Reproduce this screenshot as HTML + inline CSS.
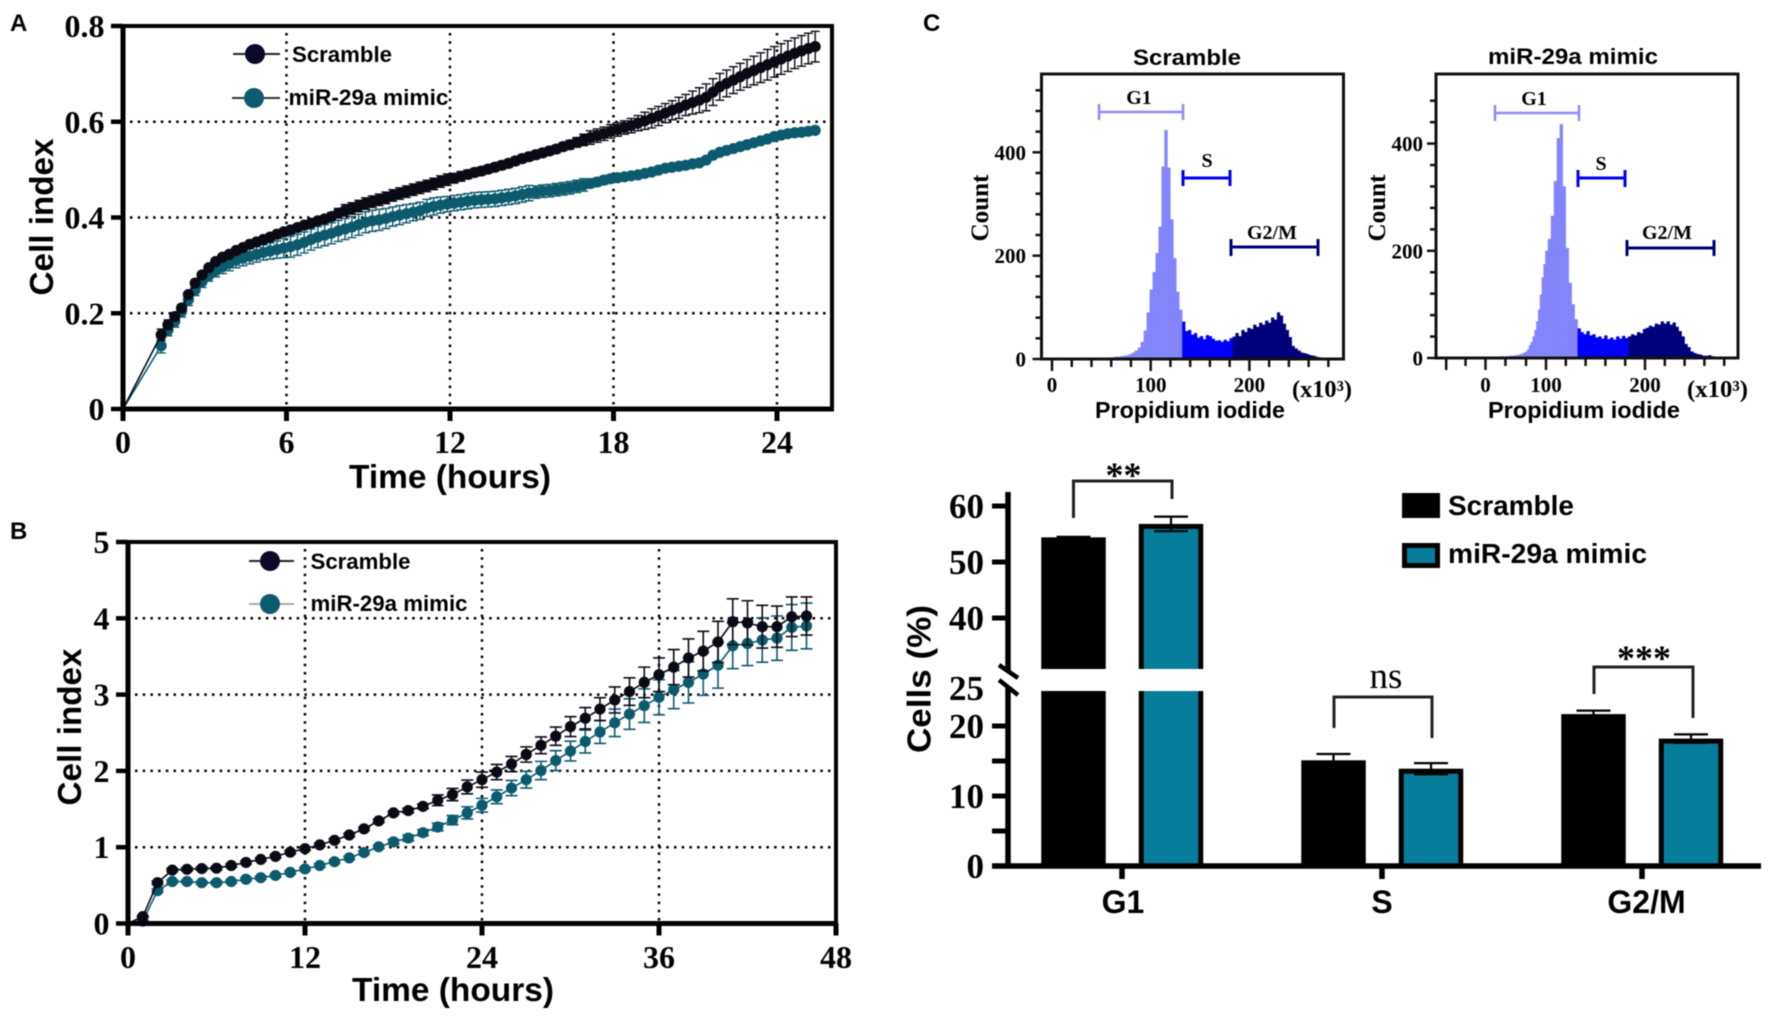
<!DOCTYPE html>
<html lang="en">
<head>
<meta charset="utf-8">
<title>miR-29a mimic cell index and cell cycle figure</title>
<style>
html,body{margin:0;padding:0;background:#fff;width:1772px;height:1017px;overflow:hidden}
svg{display:block;filter:blur(0.45px)}
.sans{font-family:"Liberation Sans",sans-serif;font-weight:bold;fill:#000}
.serif{font-family:"Liberation Serif",serif;font-weight:bold;fill:#000}
</style>
</head>
<body>
<svg id="figure" xmlns="http://www.w3.org/2000/svg" width="1772" height="1017" viewBox="0 0 1772 1017">
  <rect x="0" y="0" width="1772" height="1017" fill="#fff"/>
  <text class="sans" x="10" y="31" font-size="24">A</text>
  <text class="sans" x="10" y="539" font-size="24">B</text>
  <text class="sans" x="923" y="31" font-size="24">C</text>

  <g id="panelA"></g>
  <g id="panelB"></g>
  <g id="hist1"></g>
  <g id="hist2"></g>
  <g id="bars"></g>

  <!-- Panel A text and legend -->
  <text class="sans" x="450" y="488" font-size="33" text-anchor="middle" textLength="202" lengthAdjust="spacingAndGlyphs">Time (hours)</text>
  <text class="sans" font-size="33" text-anchor="middle" transform="translate(53,217) rotate(-90)" textLength="157" lengthAdjust="spacingAndGlyphs">Cell index</text>
  <g>
    <line x1="233" x2="280" y1="54" y2="54" stroke="#222" stroke-width="2"/>
    <circle cx="255" cy="54" r="10" fill="#0a0a28"/>
    <text class="sans" x="292" y="62" font-size="22" textLength="100" lengthAdjust="spacingAndGlyphs">Scramble</text>
    <line x1="232" x2="280" y1="98" y2="98" stroke="#333" stroke-width="2"/>
    <circle cx="254" cy="98" r="10" fill="#0c5a6e"/>
    <text class="sans" x="288.5" y="105" font-size="22" textLength="160" lengthAdjust="spacingAndGlyphs">miR-29a mimic</text>
  </g>

  <!-- Panel B text and legend -->
  <text class="sans" x="453" y="1001" font-size="33" text-anchor="middle" textLength="202" lengthAdjust="spacingAndGlyphs">Time (hours)</text>
  <text class="sans" font-size="33" text-anchor="middle" transform="translate(81,727) rotate(-90)" textLength="157" lengthAdjust="spacingAndGlyphs">Cell index</text>
  <g>
    <line x1="249" x2="294" y1="561" y2="561" stroke="#222" stroke-width="2"/>
    <circle cx="270" cy="561" r="10" fill="#0a0a28"/>
    <text class="sans" x="310.5" y="569" font-size="22" textLength="100" lengthAdjust="spacingAndGlyphs">Scramble</text>
    <line x1="249" x2="294" y1="604" y2="604" stroke="#aaa" stroke-width="2"/>
    <circle cx="270" cy="604" r="10" fill="#0c5a6e"/>
    <text class="sans" x="310.5" y="611" font-size="22" textLength="157" lengthAdjust="spacingAndGlyphs">miR-29a mimic</text>
  </g>

  <!-- Histogram text -->
  <text class="sans" x="1187" y="65" font-size="22" text-anchor="middle" textLength="108" lengthAdjust="spacingAndGlyphs">Scramble</text>
  <text class="sans" x="1573" y="64" font-size="22" text-anchor="middle" textLength="170" lengthAdjust="spacingAndGlyphs">miR-29a mimic</text>
  <text class="sans" x="1190" y="418" font-size="23" text-anchor="middle" textLength="190" lengthAdjust="spacingAndGlyphs">Propidium iodide</text>
  <text class="sans" x="1584" y="418" font-size="23" text-anchor="middle" textLength="192" lengthAdjust="spacingAndGlyphs">Propidium iodide</text>
  <text class="serif" font-size="25" text-anchor="middle" transform="translate(988,208) rotate(-90)" textLength="67" lengthAdjust="spacingAndGlyphs">Count</text>
  <text class="serif" font-size="25" text-anchor="middle" transform="translate(1385,208) rotate(-90)" textLength="67" lengthAdjust="spacingAndGlyphs">Count</text>
  <text class="serif" x="1292" y="397" font-size="24" textLength="60" lengthAdjust="spacingAndGlyphs">(x10³)</text>
  <text class="serif" x="1687" y="397" font-size="24" textLength="61" lengthAdjust="spacingAndGlyphs">(x10³)</text>

  <!-- Gates -->
  <g fill="none">
    <path d="M1099 112H1183M1099 104V120M1183 104V120" stroke="#8a8aff" stroke-width="2.5"/>
    <path d="M1183 178H1230M1183 170V186M1230 170V186" stroke="#0000f0" stroke-width="3"/>
    <path d="M1231 247H1318M1231 239V256M1318 239V256" stroke="#00007a" stroke-width="3"/>
  </g>
  <text class="serif" x="1139" y="104" font-size="20" text-anchor="middle">G1</text>
  <text class="serif" x="1207" y="167" font-size="20" text-anchor="middle">S</text>
  <text class="serif" x="1272" y="239" font-size="20" text-anchor="middle">G2/M</text>
  <g fill="none">
    <path d="M1495 113H1579M1495 105V121M1579 105V121" stroke="#8a8aff" stroke-width="2.5"/>
    <path d="M1578 178H1625M1578 170V187M1625 170V187" stroke="#0000f0" stroke-width="3"/>
    <path d="M1627 248H1714M1627 240V256M1714 240V256" stroke="#00007a" stroke-width="3"/>
  </g>
  <text class="serif" x="1534" y="105" font-size="20" text-anchor="middle">G1</text>
  <text class="serif" x="1601" y="170" font-size="20" text-anchor="middle">S</text>
  <text class="serif" x="1667" y="239" font-size="20" text-anchor="middle">G2/M</text>

  <!-- Bar chart annotations -->
  <text class="sans" font-size="33" text-anchor="middle" transform="translate(930.5,679) rotate(-90)" textLength="148" lengthAdjust="spacingAndGlyphs">Cells (%)</text>
  <g>
    <rect x="1402" y="493" width="38" height="25" fill="#000"/>
    <text class="sans" x="1448" y="515" font-size="28" textLength="126" lengthAdjust="spacingAndGlyphs">Scramble</text>
    <rect x="1404.5" y="545.5" width="33" height="20" fill="#067d9a" stroke="#000" stroke-width="5"/>
    <text class="sans" x="1448" y="563" font-size="28" textLength="199" lengthAdjust="spacingAndGlyphs">miR-29a mimic</text>
  </g>
  <g fill="none" stroke="#222" stroke-width="3">
    <path d="M1073.5 518V481H1172V499"/>
    <path d="M1334 728V697H1432V738"/>
    <path d="M1594 694V667H1693V718"/>
  </g>
  <text class="serif" x="1123.5" y="487" font-size="36" text-anchor="middle">**</text>
  <text font-family="'Liberation Serif',serif" x="1386" y="688" font-size="37" text-anchor="middle" fill="#000">ns</text>
  <text class="serif" x="1644" y="670" font-size="36" text-anchor="middle">***</text>
</svg>

<script>
/* ---------- Panel A data ---------- */
const aTimes = [0,1.4,1.65,1.9,2.15,2.4,2.65,2.9,3.15,3.4,3.65,3.9,4.15,4.4,4.65,4.9,5.15,5.4,5.65,5.9,6.15,6.4,6.65,6.9,7.15,7.4,7.65,7.9,8.15,8.4,8.65,8.9,9.15,9.4,9.65,9.9,10.15,10.4,10.65,10.9,11.15,11.4,11.65,11.9,12.15,12.4,12.65,12.9,13.15,13.4,13.65,13.9,14.15,14.4,14.65,14.9,15.15,15.4,15.65,15.9,16.15,16.4,16.65,16.9,17.15,17.4,17.65,17.9,18.15,18.4,18.65,18.9,19.15,19.4,19.65,19.9,20.15,20.4,20.65,20.9,21.15,21.4,21.65,21.9,22.15,22.4,22.65,22.9,23.15,23.4,23.65,23.9,24.15,24.4,24.65,24.9,25.15,25.4];
const aScramble = [0,.155,.176,.193,.211,.239,.263,.280,.295,.308,.317,.323,.331,.337,.344,.349,.354,.359,.365,.370,.374,.379,.384,.388,.393,.397,.402,.409,.415,.419,.424,.429,.433,.437,.441,.446,.450,.454,.458,.462,.466,.470,.475,.479,.482,.486,.490,.494,.497,.501,.505,.509,.513,.518,.523,.527,.531,.535,.539,.543,.548,.552,.557,.562,.567,.571,.575,.580,.584,.588,.592,.597,.602,.607,.612,.618,.624,.629,.635,.640,.645,.651,.662,.673,.680,.687,.694,.701,.707,.713,.719,.725,.731,.737,.743,.748,.753,.757];
const aMimic = [0,.132,.165,.183,.204,.228,.249,.266,.279,.289,.297,.304,.311,.315,.319,.323,.327,.330,.333,.336,.339,.343,.348,.354,.359,.363,.367,.372,.376,.380,.385,.390,.393,.395,.398,.402,.405,.408,.411,.414,.420,.423,.426,.428,.430,.432,.434,.436,.437,.438,.439,.441,.443,.445,.448,.451,.453,.455,.456,.458,.460,.462,.465,.468,.471,.474,.478,.481,.483,.485,.487,.489,.492,.495,.499,.503,.505,.507,.509,.512,.514,.520,.530,.536,.540,.544,.548,.552,.556,.560,.564,.569,.572,.575,.577,.578,.580,.582];
const aScrambleErr = [0,.012,.010,.008,.007,.006,.006,.006,.006,.006,.006,.006,.006,.006,.006,.006,.006,.006,.006,.006,.006,.006,.006,.006,.006,.007,.008,.010,.012,.012,.012,.012,.012,.012,.012,.012,.012,.012,.012,.012,.012,.012,.012,.012,.010,.010,.009,.008,.008,.008,.008,.008,.008,.008,.008,.008,.008,.008,.008,.008,.008,.009,.010,.012,.014,.014,.014,.014,.014,.014,.015,.016,.018,.020,.020,.020,.020,.022,.022,.024,.026,.028,.028,.028,.028,.028,.028,.029,.030,.031,.032,.032,.032,.032,.032,.032,.032,.032];
const aMimicErr = [0,.015,.012,.012,.012,.012,.012,.012,.012,.013,.014,.015,.016,.016,.016,.016,.016,.017,.018,.020,.022,.022,.022,.022,.022,.022,.022,.022,.022,.022,.022,.022,.022,.022,.021,.020,.020,.019,.018,.018,.018,.018,.017,.016,.016,.016,.016,.016,.016,.016,.016,.016,.016,.016,.016,.016,.013,.013,.013,.013,.013,.013,.013,.013,.008,.008,.008,.008,.006,.006,.006,.006,.006,.006,.006,.006,.006,.006,.006,.006,.006,.006,.006,.006,.006,.006,.006,.006,.006,.006,.006,.006,.006,.006,.006,.006,.006,.006];
const aXTicks = [0,6,12,18,24];
const aYTicks = [0,0.2,0.4,0.6,0.8];
const aYTickLabels = ['0','0.2','0.4','0.6','0.8'];

/* ---------- Panel B data ---------- */
const bTimes = [0,1,2,3,4,5,6,7,8,9,10,11,12,13,14,15,16,17,18,19,20,21,22,23,24,25,26,27,28,29,30,31,32,33,34,35,36,37,38,39,40,41,42,43,44,45,46];
const bScramble = [0,.09,.535,.70,.71,.72,.725,.76,.80,.84,.88,.935,.98,1.03,1.09,1.16,1.24,1.345,1.45,1.48,1.535,1.615,1.69,1.79,1.885,1.985,2.09,2.215,2.335,2.455,2.58,2.69,2.81,2.93,3.04,3.16,3.26,3.36,3.48,3.57,3.69,3.955,3.94,3.89,3.89,4.02,4.03];
const bMimic = [0,.03,.43,.55,.55,.535,.535,.55,.58,.60,.63,.67,.715,.76,.81,.86,.93,1.005,1.07,1.12,1.19,1.265,1.355,1.45,1.55,1.66,1.775,1.885,2.005,2.135,2.26,2.385,2.51,2.63,2.745,2.855,2.965,3.065,3.16,3.27,3.385,3.64,3.67,3.715,3.74,3.88,3.90];
const bScrambleErr = [0,.01,.02,.02,.02,.02,.02,.02,.02,.02,.02,.02,.02,.02,.02,.02,.02,.02,.02,.03,.03,.07,.08,.09,.10,.10,.10,.10,.11,.12,.13,.14,.15,.17,.18,.20,.22,.23,.25,.26,.27,.30,.29,.28,.27,.26,.25];
const bMimicErr = [0,.01,.02,.02,.02,.02,.02,.02,.02,.02,.02,.02,.02,.02,.02,.02,.02,.02,.03,.04,.04,.05,.06,.08,.09,.09,.10,.11,.12,.13,.13,.15,.15,.18,.20,.22,.23,.25,.27,.28,.30,.30,.29,.29,.29,.30,.30];
const bXTicks = [0,12,24,36,48];
const bYTicks = [0,1,2,3,4,5];

/* ---------- Histogram data (channels in thousands) ---------- */
const hist1Channels = [48,51,54,57,60,63,66,69,72,75,78,81,84,87,90,93,96,99,102,105,108,111,114,117,120,123,126,129,132,135,138,141,144,147,150,153,156,159,162,165,168,171,174,177,180,183,186,189,192,195,198,201,204,207,210,213,216,219,222,225,228,231,234,237,240,243,246,249,252,255,258,261,264,267,270,273,276,279,282];
const hist1Counts = [1,1,2,3,3,4,4,5,6,7,9,12,16,22,33,55,90,134,168,205,256,372,443,370,270,195,130,95,72,54,56,47,50,41,44,38,46,44,39,35,36,33,37,34,40,43,50,44,56,52,60,58,66,62,70,66,74,70,80,76,90,84,68,56,42,25,20,16,12,11,9,7,6,4,3,2,1,1,0];
const hist2Channels = [12,15,18,21,24,27,30,33,36,39,42,45,48,51,54,57,60,63,66,69,72,75,78,81,84,87,90,93,96,99,102,105,108,111,114,117,120,123,126,129,132,135,138,141,144,147,150,153,156,159,162,165,168,171,174,177,180,183,186,189,192,195,198,201,204,207,210,213,216,219,222,225,228,231,234,237,240,243,246,249,252,255,258,261,264,267,270,273,276,279,282];
const hist2Counts = [1,2,2,2,3,3,2,3,3,4,4,4,5,5,6,7,8,10,12,16,24,30,40,52,68,90,118,150,175,200,222,265,330,410,436,320,205,140,100,72,55,48,44,50,42,44,38,40,36,42,35,38,34,40,36,41,37,40,44,42,48,46,54,56,60,58,64,62,68,64,68,62,66,58,50,40,26,20,12,9,7,6,4,4,5,3,2,1,1,0,0];
const hist1XTicks = [0,20,40,60,80,100,120,140,160,180,200,220,240,260,280];
const hist2XTicks = [-65,-33,0,33,67,100,120,140,160,180,200,220,240,260,280];
const histXTickLabels = [0,100,200];
const hist1YTicks = [0,40,80,120,160,200,240,280,320,360,400,440,480,520];
const hist2YTicks = [0,40,80,120,160,200,240,280,320,360,400,440,480];
const histYTickLabels = [0,200,400];
const gateBoundaries = [132,181];

/* ---------- Bar chart data ---------- */
const barCategories = ['G1','S','G2/M'];
const barScramble = [54.4,15.1,21.7];
const barMimic = [56.8,13.9,18.2];
const barScrambleErr = [0.1,0.9,0.5];
const barMimicErr = [1.3,0.8,0.6];
const barYTicks = [0,5,10,15,20,40,50,60];
const barYTickLabels = [0,10,20,25,40,50,60];

/* ---------- Helpers ---------- */
const NS = 'http://www.w3.org/2000/svg';
function make(parent, tag, props, txt) {
  const e = document.createElementNS(NS, tag);
  for (const k in props) e.setAttribute(k, props[k]);
  if (txt !== undefined) e.textContent = txt;
  parent.appendChild(e);
  return e;
}

/* ---------- Line panels A and B ---------- */
function drawLinePanel(root, cfg) {
  const xs = t => cfg.left + (t - cfg.xMin) / (cfg.xMax - cfg.xMin) * cfg.xLen;
  const ys = v => cfg.bottom - v / cfg.yMax * (cfg.bottom - cfg.top);

  cfg.xTicks.forEach(t => {
    if (t === 0 || t >= cfg.xGridLimit) return;
    const g = make(root, 'line', {x1:xs(t), x2:xs(t), y1:cfg.top + 7, y2:cfg.bottom, stroke:'#000', 'stroke-width':2.5, 'stroke-dasharray':'2.5 5.7'});
    
    
  });
  cfg.yTicks.forEach(v => {
    if (v === 0 || v === cfg.yMax) return;
    const g = make(root, 'line', {x1:cfg.left + 7, x2:cfg.right, y1:ys(v), y2:ys(v), stroke:'#000', 'stroke-width':2.5, 'stroke-dasharray':'2.5 5.2'});
    
    
  });

  [[cfg.mimic, cfg.mimicErr, '#0c5a6e', 'mimic'], [cfg.scramble, cfg.scrambleErr, '#0a0a14', 'scramble']].forEach(s => {
    const values = s[0], errs = s[1], color = s[2], key = s[3];
    const pts = cfg.times.map((t, i) => xs(t) + ',' + ys(values[i])).join(' ');
    const ln = make(root, 'polyline', {points:pts, fill:'none', stroke:color, 'stroke-width':1.6});
    
    
    cfg.times.forEach((t, i) => {
      if (i === 0) return;
      const hi = ys(values[i] + errs[i]), lo = ys(values[i] - errs[i]), x = xs(t);
      const eb = make(root, 'path', {d:'M' + x + ' ' + hi + 'V' + lo + 'M' + (x - cfg.cap) + ' ' + hi + 'H' + (x + cfg.cap) + 'M' + (x - cfg.cap) + ' ' + lo + 'H' + (x + cfg.cap), fill:'none', stroke:color, 'stroke-width':cfg.errWidth});
      
      
    });
    cfg.times.forEach((t, i) => {
      if (i === 0 && !cfg.firstMarker) return;
      const c = make(root, 'circle', {cx:xs(t), cy:ys(values[i]), r:cfg.radius, fill:color});
      
      
    });
  });

  const frame = make(root, 'path', {d:'M' + cfg.left + ' ' + cfg.top + 'H' + cfg.right + 'V' + cfg.bottom, fill:'none', stroke:'#000', 'stroke-width':4});
  
  
  const yAxis = make(root, 'line', {x1:cfg.left, x2:cfg.left, y1:cfg.top - 2, y2:cfg.bottom + 2, stroke:'#000', 'stroke-width':5});
  
  
  const xAxis = make(root, 'line', {x1:cfg.left, x2:cfg.right + 2, y1:cfg.bottom, y2:cfg.bottom, stroke:'#000', 'stroke-width':5});
  
  

  cfg.xTicks.forEach(t => {
    const tk = make(root, 'line', {x1:xs(t), x2:xs(t), y1:cfg.bottom, y2:cfg.bottom + cfg.xTickLen, stroke:'#000', 'stroke-width':5});
    
    
    const lb = make(root, 'text', {x:xs(t), y:cfg.xLabelY, 'text-anchor':'middle', 'font-size':32, class:'serif'}, String(t));
    
    
  });
  cfg.yTicks.forEach((v, i) => {
    const tk = make(root, 'line', {x1:cfg.left - 12, x2:cfg.left, y1:ys(v), y2:ys(v), stroke:'#000', 'stroke-width':4.5});
    
    
    const lb = make(root, 'text', {x:cfg.left - 18.5, y:ys(v) + 11, 'text-anchor':'end', 'font-size':32, class:'serif'}, cfg.yLabels[i]);
    
    
  });
}

drawLinePanel(document.getElementById('panelA'), {
  left:123, right:832, top:26, bottom:409, xMin:0, xMax:24, xLen:654, yMax:0.8,
  times:aTimes, scramble:aScramble, mimic:aMimic, scrambleErr:aScrambleErr, mimicErr:aMimicErr,
  xTicks:aXTicks, yTicks:aYTicks, yLabels:aYTickLabels, xGridLimit:100,
  radius:5.6, cap:4.5, errWidth:1.4, firstMarker:false, xTickLen:12, xLabelY:453
});
drawLinePanel(document.getElementById('panelB'), {
  left:128, right:836, top:542, bottom:923.5, xMin:0, xMax:48, xLen:708, yMax:5,
  times:bTimes, scramble:bScramble, mimic:bMimic, scrambleErr:bScrambleErr, mimicErr:bMimicErr,
  xTicks:bXTicks, yTicks:bYTicks, yLabels:bYTicks.map(String), xGridLimit:48,
  radius:5.6, cap:6, errWidth:1.6, firstMarker:false, xTickLen:12, xLabelY:968
});

/* ---------- Histograms ---------- */
function drawHistogram(root, cfg) {
  const regionColors = ['#8484fb', '#0000fa', '#00007c'];
  const regionNames = ['g1', 's', 'g2m'];
  const regionOf = c => c < gateBoundaries[0] ? 0 : (c < gateBoundaries[1] ? 1 : 2);
  for (let r = 0; r < 3; r++) {
    let d = '';
    cfg.channels.forEach((c, i) => {
      if (regionOf(c) !== r) return;
      const x0 = cfg.xs(c), x1 = cfg.xs(c + 3), top = cfg.ys(cfg.counts[i]);
      d += 'M' + x0 + ' ' + cfg.bottom + 'V' + top + 'H' + x1 + 'V' + cfg.bottom + 'Z';
    });
    const area = make(root, 'path', {d:d, fill:regionColors[r], stroke:regionColors[r], 'stroke-width':0.3});
    
    
  }
  const frame = make(root, 'rect', {x:cfg.left, y:cfg.top, width:cfg.right - cfg.left, height:cfg.bottom - cfg.top, fill:'none', stroke:'#111', 'stroke-width':3});
  
  
  cfg.xTicks.forEach(c => {
    const major = cfg.majorX.indexOf(c) >= 0;
    const tk = make(root, 'line', {x1:cfg.xs(c), x2:cfg.xs(c), y1:cfg.bottom, y2:cfg.bottom + (major ? 12 : 8), stroke:'#111', 'stroke-width':2.5});
    
    
  });
  histXTickLabels.forEach(c => {
    const lb = make(root, 'text', {x:cfg.xs(c), y:392, 'text-anchor':'middle', 'font-size':21, class:'serif'}, String(c));
    
    
  });
  cfg.yTicks.forEach(v => {
    const major = histYTickLabels.indexOf(v) >= 0;
    const tk = make(root, 'line', {x1:cfg.left - (major ? 9 : 6), x2:cfg.left, y1:cfg.ys(v), y2:cfg.ys(v), stroke:'#111', 'stroke-width':2.5});
    
    
  });
  histYTickLabels.forEach(v => {
    const lb = make(root, 'text', {x:cfg.labelRight, y:cfg.ys(v) + 7.5, 'text-anchor':'end', 'font-size':21, class:'serif'}, String(v));
    
    
  });
}
drawHistogram(document.getElementById('hist1'), {
  left:1041.5, right:1343.5, top:74, bottom:359, labelRight:1026,
  xs:c => 1052 + c * 0.987,
  ys:v => 359 - v * 0.5167,
  channels:hist1Channels, counts:hist1Counts, xTicks:hist1XTicks, yTicks:hist1YTicks, majorX:[0,100,200]
});
drawHistogram(document.getElementById('hist2'), {
  left:1436, right:1738, top:74, bottom:358, labelRight:1423,
  xs:c => c >= 100 ? 1546 + (c - 100) * 0.99 : 1546 - (100 - c) * 0.605,
  ys:v => 358 - v * 0.536,
  channels:hist2Channels, counts:hist2Counts, xTicks:hist2XTicks, yTicks:hist2YTicks, majorX:[-65,0,100,200]
});

/* ---------- Bar chart ---------- */
(function () {
  const root = document.getElementById('bars');
  const base = 866, segLowTop = 691, segHighBottom = 669;
  const barY = v => v >= 30 ? 506 + (60 - v) * 5.6 : base - v * 7;
  const catX = i => 1122 + i * 260;
  const barW = 64.5, inset = 5;

  barCategories.forEach((name, i) => {
    [[barScramble, barScrambleErr, -48.5, '#000', 'scramble'], [barMimic, barMimicErr, 49, '#067d9a', 'mimic']].forEach(s => {
      const v = s[0][i], err = s[1][i], cx = catX(i) + s[2], fill = s[3], key = s[4];
      const x0 = cx - barW / 2, top = barY(v);
      const broken = v >= 30;
      const segments = broken ? [[top, segHighBottom, true], [segLowTop, base, false]] : [[top, base, true]];
      segments.forEach(seg => {
        const o = make(root, 'rect', {x:x0, y:seg[0], width:barW, height:seg[1] - seg[0], fill:'#000'});
        
        
        if (key === 'mimic') {
          const yIn = seg[0] + (seg[2] ? inset : 0);
          const f = make(root, 'rect', {x:x0 + inset, y:yIn, width:barW - 2 * inset, height:seg[1] - yIn, fill:fill});
          
          
        }
      });
      const hi = barY(v + err), lo = barY(v - err);
      const eb = make(root, 'path', {d:'M' + cx + ' ' + hi + 'V' + lo + 'M' + (cx - 17) + ' ' + hi + 'H' + (cx + 17) + 'M' + (cx - 17) + ' ' + lo + 'H' + (cx + 17), fill:'none', stroke:'#000', 'stroke-width':2.2});
      
      
    });
    const tk = make(root, 'line', {x1:catX(i), x2:catX(i), y1:base, y2:879, stroke:'#000', 'stroke-width':5.5});
    
    
    const lb = make(root, 'text', {x:catX(i) + (i === 2 ? 4.5 : (i === 0 ? 1 : 0)), y:913, 'text-anchor':'middle', 'font-size':32, class:'sans'}, name);
    
    
  });

  const axisHigh = make(root, 'line', {x1:1008, x2:1008, y1:492, y2:672, stroke:'#000', 'stroke-width':5.5});
  
  
  const axisLow = make(root, 'line', {x1:1008, x2:1008, y1:688, y2:868, stroke:'#000', 'stroke-width':5.5});
  
  
  const xAxis = make(root, 'line', {x1:992, x2:1761, y1:base, y2:base, stroke:'#000', 'stroke-width':5.5});
  
  
  const brk = make(root, 'path', {d:'M999 665L1018 678M999 680L1018 695', fill:'none', stroke:'#000', 'stroke-width':4.5});
  
  

  barYTicks.forEach(v => {
    const tk = make(root, 'line', {x1:992, x2:1008, y1:barY(v), y2:barY(v), stroke:'#000', 'stroke-width':5});
    
    
  });
  barYTickLabels.forEach(v => {
    const lb = make(root, 'text', {x:984, y:barY(v) + (v === 25 ? 9 : 12), 'text-anchor':'end', 'font-size':35, class:'serif'}, String(v));
    
    
  });
})();
</script>
</body>
</html>
